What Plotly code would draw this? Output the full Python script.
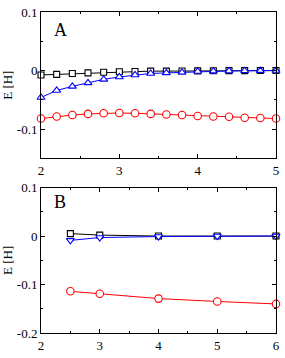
import plotly.graph_objects as go

# Panel A data
xa = [2.0, 2.2, 2.4, 2.6, 2.8, 3.0, 3.2, 3.4, 3.6, 3.8, 4.0, 4.2, 4.4, 4.6, 4.8, 5.0]
a_square = [-0.0075, -0.0065, -0.005, -0.004, -0.003, -0.002, -0.0015, -0.001, -0.001, -0.0007, -0.0005, -0.0003, -0.0002, -0.0001, 0.0, 0.0]
a_triangle = [-0.046, -0.034, -0.027, -0.021, -0.015, -0.011, -0.0075, -0.005, -0.004, -0.003, -0.0015, -0.001, -0.0007, -0.0004, -0.0002, 0.0]
a_circle = [-0.082, -0.0785, -0.076, -0.074, -0.073, -0.0725, -0.073, -0.074, -0.075, -0.076, -0.0775, -0.0785, -0.079, -0.0805, -0.081, -0.082]

# Panel B data
xb = [2.5, 3.0, 4.0, 5.0, 6.0]
b_square = [0.005, 0.002, 0.0, 0.0, 0.0]
b_triangle = [-0.009, -0.003, -0.001, 0.0, 0.0]
b_circle = [-0.114, -0.119, -0.129, -0.135, -0.140]

fig = go.Figure()

def add(x, y, color, symbol, size, xa_, ya_):
    fig.add_trace(go.Scatter(
        x=x, y=y, mode="lines+markers", xaxis=xa_, yaxis=ya_,
        line=dict(color=color, width=1),
        marker=dict(symbol=symbol, size=size, color="white",
                    line=dict(color=color, width=1.1)),
        cliponaxis=False, showlegend=False))

add(xa, a_square, "black", "square", 6, "x", "y")
add(xa, a_triangle, "blue", "triangle-up", 7, "x", "y")
add(xa, a_circle, "red", "circle", 7.5, "x", "y")

add(xb, b_square, "black", "square", 6, "x2", "y2")
add(xb, b_triangle, "blue", "triangle-down", 7, "x2", "y2")
add(xb, b_circle, "red", "circle", 7.5, "x2", "y2")

font = dict(family="Liberation Serif", size=13, color="black")
tfont = dict(family="Liberation Serif", size=13, color="black")
axcommon = dict(showline=True, linecolor="black", linewidth=1, mirror="allticks",
                ticks="inside", ticklen=4, tickcolor="black", showgrid=False,
                zeroline=False, tickfont=font, ticklabeloverflow="allow")

fig.update_layout(
    width=285, height=358,
    margin=dict(l=41, r=5, t=5, b=15),
    paper_bgcolor="white", plot_bgcolor="white",
    font=font,
    xaxis=dict(domain=[0, 1], range=[2, 5], dtick=1, anchor="y",
               minor=dict(dtick=0.5, ticks="inside", ticklen=2, tickcolor="black"),
               **axcommon),
    yaxis=dict(domain=[0.544, 1], range=[-0.15, 0.1], anchor="x",
               tickvals=[-0.1, 0, 0.1], ticktext=["-0.1", "0", "0.1"],
               minor=dict(dtick=0.05, ticks="inside", ticklen=2, tickcolor="black"),
               title=dict(text="E [H]", font=tfont, standoff=2),
               **axcommon),
    xaxis2=dict(domain=[0, 1], range=[2, 6], dtick=1, anchor="y2",
                minor=dict(dtick=0.5, ticks="inside", ticklen=2, tickcolor="black"),
                **axcommon),
    yaxis2=dict(domain=[0, 0.453], range=[-0.2, 0.1], anchor="x2",
                tickvals=[-0.2, -0.1, 0, 0.1], ticktext=["-0.2", "-0.1", "0", "0.1"],
                minor=dict(dtick=0.05, ticks="inside", ticklen=2, tickcolor="black"),
                title=dict(text="E [H]", font=tfont, standoff=2),
                **axcommon),
    annotations=[
        dict(text="A", x=2.25, y=0.07, xref="x", yref="y", showarrow=False,
             font=dict(family="Liberation Serif", size=18, color="black")),
        dict(text="B", x=2.33, y=0.07, xref="x2", yref="y2", showarrow=False,
             font=dict(family="Liberation Serif", size=18, color="black")),
    ],
)

fig.write_html("out.html", config={"displayModeBar": False},
               post_script="document.body.style.margin='0';document.body.style.overflow='hidden';")
